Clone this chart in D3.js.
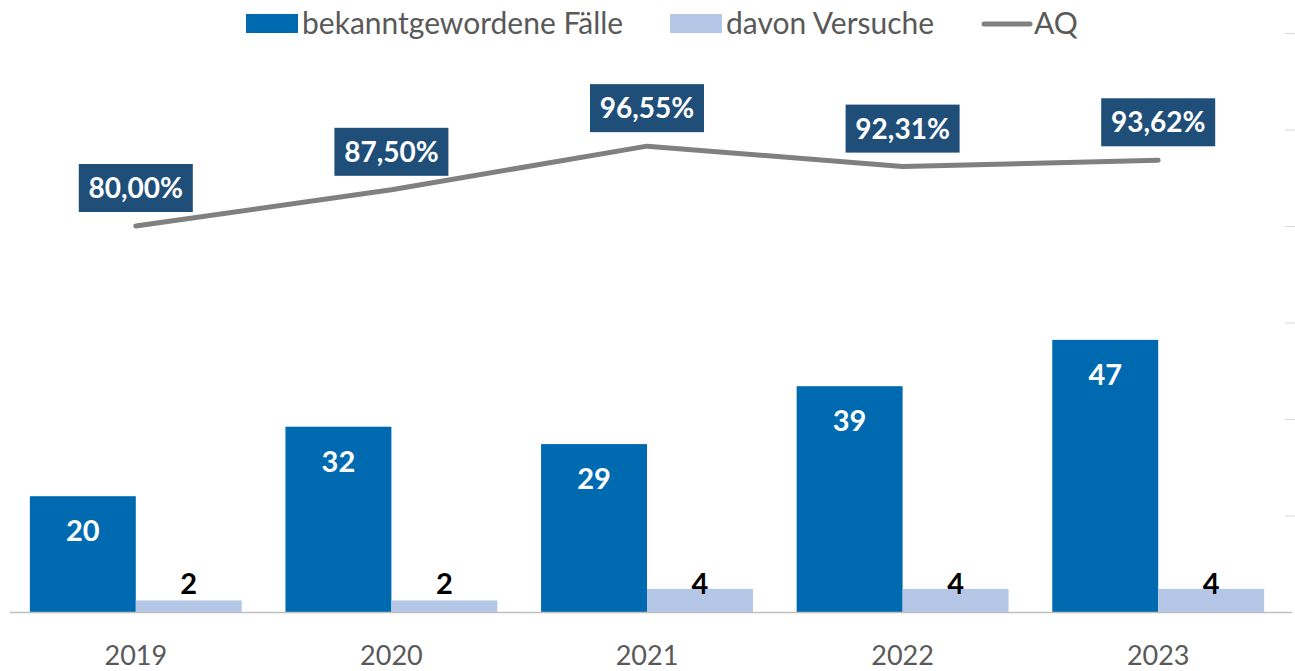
<!DOCTYPE html>
<meta charset="utf-8">
<style>
    body { margin: 0; background: #fff; }
    text { font-family: Lato, "Open Sans", sans-serif; }
</style>
<body>

<script src="https://d3js.org/d3.v7.min.js"></script>
<script>
    var years = ["2019", "2020", "2021", "2022", "2023"];
    var seriesNames = ["bekanntgewordene Fälle", "davon Versuche"];
    var faelle = [20, 32, 29, 39, 47];
    var versuche = [2, 2, 4, 4, 4];
    var aq = [80.00, 87.50, 96.55, 92.31, 93.62];
    var lineName = "AQ";

    var W = 1295, H = 671;
    var plotLeft = 8, plotRight = 1286, plotTop = 33, plotBottom = 612;

    var svg = d3.select("body").append("svg")
        .attr("width", W)
        .attr("height", H);

    var x = d3.scaleBand().domain(years).range([plotLeft, plotRight]).padding(0);
    var bw = x.bandwidth();
    var x1 = d3.scaleBand().domain(seriesNames).range([bw * 0.0855, bw * 0.9145]).padding(0);

    var y = d3.scaleLinear().domain([0, 100]).range([plotBottom, plotTop]);
    var y2 = d3.scaleLinear().domain([0, 120]).range([plotBottom, plotTop]);

    var color = d3.scaleOrdinal().domain(seriesNames).range(["#006AB0", "#B4C7E7"]);

    // secondary axis ticks on the right (no labels)
    var rAxis = svg.append("g")
        .attr("transform", "translate(1285,0)")
        .call(d3.axisRight(y2).tickValues([20, 40, 60, 80, 100, 120]).tickSize(10).tickFormat(""));
    rAxis.select(".domain").remove();
    rAxis.selectAll("line").attr("stroke", "#d9d9d9");

    var data = years.map((yr, i) => ({year: yr, values: [faelle[i], versuche[i]]}));

    var groups = svg.selectAll(".grp").data(data).enter().append("g")
        .attr("transform", d => "translate(" + x(d.year) + ",0)");

    groups.selectAll("rect").data(d => d.values.map((v, j) => ({key: seriesNames[j], v: v})))
        .enter().append("rect")
        .attr("x", d => x1(d.key))
        .attr("y", d => y(d.v))
        .attr("width", x1.bandwidth())
        .attr("height", d => y(0) - y(d.v))
        .attr("fill", d => color(d.key));

    // labels in the blue bars
    groups.append("text")
        .attr("x", x1(seriesNames[0]) + x1.bandwidth() / 2)
        .attr("y", d => y(d.values[0]) + 45)
        .attr("text-anchor", "middle")
        .attr("fill", "#fff")
        .attr("font-weight", "bold")
        .attr("font-size", 29)
        .text(d => d.values[0]);

    // labels above the light bars
    groups.append("text")
        .attr("x", x1(seriesNames[1]) + x1.bandwidth() / 2)
        .attr("y", y(0) - 18)
        .attr("text-anchor", "middle")
        .attr("fill", "#000")
        .attr("font-weight", "bold")
        .attr("font-size", 29)
        .text(d => d.values[1]);

    // baseline
    svg.append("line")
        .attr("x1", 10).attr("x2", 1292)
        .attr("y1", y(0) + 0.5).attr("y2", y(0) + 0.5)
        .attr("stroke", "#bfbfbf").attr("stroke-width", 1.5);

    // AQ line
    var line = d3.line()
        .x((d, i) => x(years[i]) + bw / 2)
        .y(d => y2(d));

    svg.append("path")
        .datum(aq)
        .attr("fill", "none")
        .attr("stroke", "#808080")
        .attr("stroke-width", 5)
        .attr("stroke-linecap", "round")
        .attr("stroke-linejoin", "round")
        .attr("d", line);

    var fmt = v => v.toFixed(2).replace(".", ",") + "%";
    var lbl = svg.selectAll(".aq").data(aq).enter().append("g")
        .attr("transform", (d, i) => "translate(" + (x(years[i]) + bw / 2) + "," + y2(d) + ")");
    lbl.append("rect")
        .attr("x", -57).attr("y", -62)
        .attr("width", 114).attr("height", 48)
        .attr("fill", "#1F4E79");
    lbl.append("text")
        .attr("x", 0).attr("y", -28)
        .attr("text-anchor", "middle")
        .attr("fill", "#fff")
        .attr("font-weight", "bold")
        .attr("font-size", 28)
        .text(d => fmt(d));

    // year labels
    svg.selectAll(".yr").data(years).enter().append("text")
        .attr("x", d => x(d) + bw / 2)
        .attr("y", 665)
        .attr("text-anchor", "middle")
        .attr("fill", "#595959")
        .attr("font-size", 27)
        .text(d => d);

    // legend
    var legend = svg.append("g");
    var items = [
        {name: seriesNames[0], type: "rect", x: 246, c: color(seriesNames[0])},
        {name: seriesNames[1], type: "rect", x: 670, c: color(seriesNames[1])},
        {name: lineName, type: "line", x: 981, c: "#808080"}
    ];
    items.forEach(it => {
        var g = legend.append("g").attr("transform", "translate(" + it.x + ",0)");
        if (it.type === "rect") {
            g.append("rect").attr("x", 0).attr("y", 14).attr("width", 52).attr("height", 19).attr("fill", it.c);
        } else {
            g.append("line").attr("x1", 3).attr("x2", 49).attr("y1", 24).attr("y2", 24)
                .attr("stroke", it.c).attr("stroke-width", 5).attr("stroke-linecap", "round");
        }
        g.append("text").attr("x", it.type === "rect" ? 56 : 53).attr("y", 34)
            .attr("fill", "#595959").attr("font-size", 30)
            .text(it.name);
    });
</script>

</body>
</html>
